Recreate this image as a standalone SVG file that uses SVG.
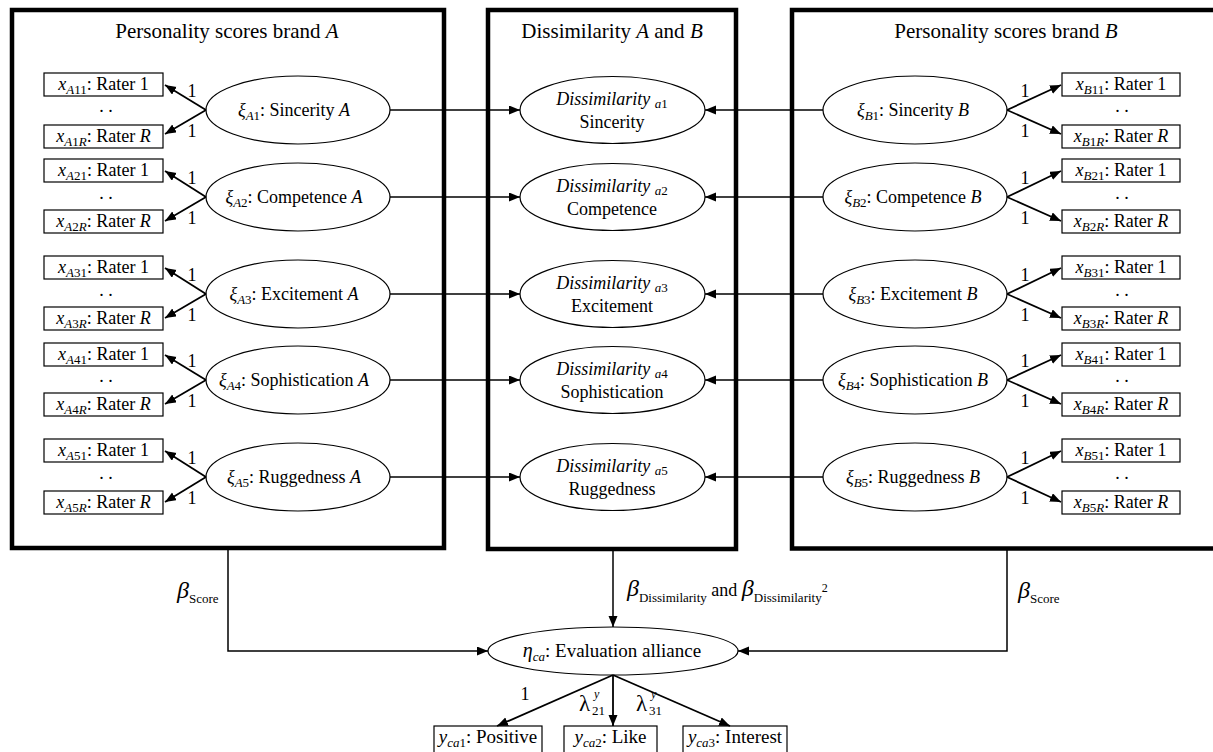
<svg xmlns="http://www.w3.org/2000/svg" width="1213" height="752" viewBox="0 0 1213 752">
<defs>
<style>
.frame{fill:none;stroke:#000;stroke-width:4.5}
.box{fill:#fff;stroke:#000;stroke-width:1.2}
.ell{fill:#fff;stroke:#000;stroke-width:1.2}
.conn{fill:none;stroke:#000;stroke-width:1.6}
.ld{fill:none;stroke:#000;stroke-width:1.8;marker-end:url(#ah)}
.ha{fill:none;stroke:#000;stroke-width:1.5;marker-end:url(#ah)}
text{font-family:"Liberation Serif","Times New Roman",serif;fill:#000}
.i{font-style:italic}
.ti{font-size:21px}
.f18{font-size:18px}
.f19{font-size:19px}
.s{font-size:13px}
.lab{font-size:18px}
</style>
<marker id="ah" markerUnits="userSpaceOnUse" markerWidth="12" markerHeight="10" refX="11" refY="4.5" orient="auto">
<path d="M0,0 L11,4.5 L0,9 z" fill="#000"/>
</marker>
</defs>
<rect width="1213" height="752" fill="#fff"/>

<g id="frames">
<rect class="frame" x="12" y="10" width="432" height="538"/>
<rect class="frame" x="488" y="10" width="248" height="539"/>
<rect class="frame" x="792" y="10" width="440" height="538.5"/>
<text class="ti" x="227" y="38" text-anchor="middle">Personality scores brand <tspan class="i">A</tspan></text>
<text class="ti" x="612" y="38" text-anchor="middle">Dissimilarity <tspan class="i">A</tspan> and <tspan class="i">B</tspan></text>
<text class="ti" x="1006" y="38" text-anchor="middle">Personality scores brand <tspan class="i">B</tspan></text>
</g>

<!-- Row 1 -->
<g id="xA11"><rect class="box" x="44" y="73" width="119" height="23"/><text class="f18" x="103.5" y="90" text-anchor="middle"><tspan class="i">x</tspan><tspan class="s" dy="4"><tspan class="i">A</tspan>11</tspan><tspan dy="-4">: Rater 1</tspan></text></g>
<g id="xA1R"><rect class="box" x="44" y="125" width="119" height="23"/><text class="f18" x="103.5" y="142" text-anchor="middle"><tspan class="i">x</tspan><tspan class="s" dy="4"><tspan class="i">A</tspan>1<tspan class="i">R</tspan></tspan><tspan dy="-4">: Rater </tspan><tspan class="i">R</tspan></text></g>
<g id="xiA1"><ellipse class="ell" cx="298" cy="110" rx="92" ry="34"/><text class="f18" x="294" y="116" text-anchor="middle"><tspan class="i">ξ</tspan><tspan class="s" dy="4"><tspan class="i">A</tspan>1</tspan><tspan dy="-4">: Sincerity </tspan><tspan class="i">A</tspan></text></g>
<g id="dis1"><ellipse class="ell" cx="612.5" cy="110" rx="92.5" ry="33.5"/><text class="f18" x="612" y="105" text-anchor="middle"><tspan class="i">Dissimilarity </tspan><tspan class="s" dy="3"><tspan class="i">a</tspan>1</tspan></text><text class="f18" x="612" y="128" text-anchor="middle">Sincerity</text></g>
<g id="xiB1"><ellipse class="ell" cx="915" cy="110" rx="92" ry="34"/><text class="f18" x="913" y="116" text-anchor="middle"><tspan class="i">ξ</tspan><tspan class="s" dy="4"><tspan class="i">B</tspan>1</tspan><tspan dy="-4">: Sincerity </tspan><tspan class="i">B</tspan></text></g>
<g id="xB11"><rect class="box" x="1062" y="73" width="118" height="23"/><text class="f18" x="1121" y="90" text-anchor="middle"><tspan class="i">x</tspan><tspan class="s" dy="4"><tspan class="i">B</tspan>11</tspan><tspan dy="-4">: Rater 1</tspan></text></g>
<g id="xB1R"><rect class="box" x="1062" y="125" width="118" height="23"/><text class="f18" x="1121" y="142" text-anchor="middle"><tspan class="i">x</tspan><tspan class="s" dy="4"><tspan class="i">B</tspan>1<tspan class="i">R</tspan></tspan><tspan dy="-4">: Rater </tspan><tspan class="i">R</tspan></text></g>

<!-- Row 2 -->
<g id="xA21"><rect class="box" x="44" y="159" width="119" height="23"/><text class="f18" x="103.5" y="176" text-anchor="middle"><tspan class="i">x</tspan><tspan class="s" dy="4"><tspan class="i">A</tspan>21</tspan><tspan dy="-4">: Rater 1</tspan></text></g>
<g id="xA2R"><rect class="box" x="44" y="210" width="119" height="23"/><text class="f18" x="103.5" y="227" text-anchor="middle"><tspan class="i">x</tspan><tspan class="s" dy="4"><tspan class="i">A</tspan>2<tspan class="i">R</tspan></tspan><tspan dy="-4">: Rater </tspan><tspan class="i">R</tspan></text></g>
<g id="xiA2"><ellipse class="ell" cx="298" cy="197" rx="92" ry="34"/><text class="f18" x="294" y="203" text-anchor="middle"><tspan class="i">ξ</tspan><tspan class="s" dy="4"><tspan class="i">A</tspan>2</tspan><tspan dy="-4">: Competence </tspan><tspan class="i">A</tspan></text></g>
<g id="dis2"><ellipse class="ell" cx="612.5" cy="197" rx="92.5" ry="33.5"/><text class="f18" x="612" y="192" text-anchor="middle"><tspan class="i">Dissimilarity </tspan><tspan class="s" dy="3"><tspan class="i">a</tspan>2</tspan></text><text class="f18" x="612" y="215" text-anchor="middle">Competence</text></g>
<g id="xiB2"><ellipse class="ell" cx="915" cy="197" rx="92" ry="34"/><text class="f18" x="913" y="203" text-anchor="middle"><tspan class="i">ξ</tspan><tspan class="s" dy="4"><tspan class="i">B</tspan>2</tspan><tspan dy="-4">: Competence </tspan><tspan class="i">B</tspan></text></g>
<g id="xB21"><rect class="box" x="1062" y="159" width="118" height="23"/><text class="f18" x="1121" y="176" text-anchor="middle"><tspan class="i">x</tspan><tspan class="s" dy="4"><tspan class="i">B</tspan>21</tspan><tspan dy="-4">: Rater 1</tspan></text></g>
<g id="xB2R"><rect class="box" x="1062" y="210" width="118" height="23"/><text class="f18" x="1121" y="227" text-anchor="middle"><tspan class="i">x</tspan><tspan class="s" dy="4"><tspan class="i">B</tspan>2<tspan class="i">R</tspan></tspan><tspan dy="-4">: Rater </tspan><tspan class="i">R</tspan></text></g>

<!-- Row 3 -->
<g id="xA31"><rect class="box" x="44" y="256" width="119" height="23"/><text class="f18" x="103.5" y="273" text-anchor="middle"><tspan class="i">x</tspan><tspan class="s" dy="4"><tspan class="i">A</tspan>31</tspan><tspan dy="-4">: Rater 1</tspan></text></g>
<g id="xA3R"><rect class="box" x="44" y="307" width="119" height="23"/><text class="f18" x="103.5" y="324" text-anchor="middle"><tspan class="i">x</tspan><tspan class="s" dy="4"><tspan class="i">A</tspan>3<tspan class="i">R</tspan></tspan><tspan dy="-4">: Rater </tspan><tspan class="i">R</tspan></text></g>
<g id="xiA3"><ellipse class="ell" cx="298" cy="294" rx="92" ry="34"/><text class="f18" x="294" y="300" text-anchor="middle"><tspan class="i">ξ</tspan><tspan class="s" dy="4"><tspan class="i">A</tspan>3</tspan><tspan dy="-4">: Excitement </tspan><tspan class="i">A</tspan></text></g>
<g id="dis3"><ellipse class="ell" cx="612.5" cy="294" rx="92.5" ry="33.5"/><text class="f18" x="612" y="289" text-anchor="middle"><tspan class="i">Dissimilarity </tspan><tspan class="s" dy="3"><tspan class="i">a</tspan>3</tspan></text><text class="f18" x="612" y="312" text-anchor="middle">Excitement</text></g>
<g id="xiB3"><ellipse class="ell" cx="915" cy="294" rx="92" ry="34"/><text class="f18" x="913" y="300" text-anchor="middle"><tspan class="i">ξ</tspan><tspan class="s" dy="4"><tspan class="i">B</tspan>3</tspan><tspan dy="-4">: Excitement </tspan><tspan class="i">B</tspan></text></g>
<g id="xB31"><rect class="box" x="1062" y="256" width="118" height="23"/><text class="f18" x="1121" y="273" text-anchor="middle"><tspan class="i">x</tspan><tspan class="s" dy="4"><tspan class="i">B</tspan>31</tspan><tspan dy="-4">: Rater 1</tspan></text></g>
<g id="xB3R"><rect class="box" x="1062" y="307" width="118" height="23"/><text class="f18" x="1121" y="324" text-anchor="middle"><tspan class="i">x</tspan><tspan class="s" dy="4"><tspan class="i">B</tspan>3<tspan class="i">R</tspan></tspan><tspan dy="-4">: Rater </tspan><tspan class="i">R</tspan></text></g>

<!-- Row 4 -->
<g id="xA41"><rect class="box" x="44" y="343" width="119" height="23"/><text class="f18" x="103.5" y="360" text-anchor="middle"><tspan class="i">x</tspan><tspan class="s" dy="4"><tspan class="i">A</tspan>41</tspan><tspan dy="-4">: Rater 1</tspan></text></g>
<g id="xA4R"><rect class="box" x="44" y="393" width="119" height="23"/><text class="f18" x="103.5" y="410" text-anchor="middle"><tspan class="i">x</tspan><tspan class="s" dy="4"><tspan class="i">A</tspan>4<tspan class="i">R</tspan></tspan><tspan dy="-4">: Rater </tspan><tspan class="i">R</tspan></text></g>
<g id="xiA4"><ellipse class="ell" cx="298" cy="380" rx="92" ry="34"/><text class="f18" x="294" y="386" text-anchor="middle"><tspan class="i">ξ</tspan><tspan class="s" dy="4"><tspan class="i">A</tspan>4</tspan><tspan dy="-4">: Sophistication </tspan><tspan class="i">A</tspan></text></g>
<g id="dis4"><ellipse class="ell" cx="612.5" cy="380" rx="92.5" ry="33.5"/><text class="f18" x="612" y="375" text-anchor="middle"><tspan class="i">Dissimilarity </tspan><tspan class="s" dy="3"><tspan class="i">a</tspan>4</tspan></text><text class="f18" x="612" y="398" text-anchor="middle">Sophistication</text></g>
<g id="xiB4"><ellipse class="ell" cx="915" cy="380" rx="92" ry="34"/><text class="f18" x="913" y="386" text-anchor="middle"><tspan class="i">ξ</tspan><tspan class="s" dy="4"><tspan class="i">B</tspan>4</tspan><tspan dy="-4">: Sophistication </tspan><tspan class="i">B</tspan></text></g>
<g id="xB41"><rect class="box" x="1062" y="343" width="118" height="23"/><text class="f18" x="1121" y="360" text-anchor="middle"><tspan class="i">x</tspan><tspan class="s" dy="4"><tspan class="i">B</tspan>41</tspan><tspan dy="-4">: Rater 1</tspan></text></g>
<g id="xB4R"><rect class="box" x="1062" y="393" width="118" height="23"/><text class="f18" x="1121" y="410" text-anchor="middle"><tspan class="i">x</tspan><tspan class="s" dy="4"><tspan class="i">B</tspan>4<tspan class="i">R</tspan></tspan><tspan dy="-4">: Rater </tspan><tspan class="i">R</tspan></text></g>

<!-- Row 5 -->
<g id="xA51"><rect class="box" x="44" y="439" width="119" height="23"/><text class="f18" x="103.5" y="456" text-anchor="middle"><tspan class="i">x</tspan><tspan class="s" dy="4"><tspan class="i">A</tspan>51</tspan><tspan dy="-4">: Rater 1</tspan></text></g>
<g id="xA5R"><rect class="box" x="44" y="491" width="119" height="23"/><text class="f18" x="103.5" y="508" text-anchor="middle"><tspan class="i">x</tspan><tspan class="s" dy="4"><tspan class="i">A</tspan>5<tspan class="i">R</tspan></tspan><tspan dy="-4">: Rater </tspan><tspan class="i">R</tspan></text></g>
<g id="xiA5"><ellipse class="ell" cx="298" cy="477" rx="92" ry="34"/><text class="f18" x="294" y="483" text-anchor="middle"><tspan class="i">ξ</tspan><tspan class="s" dy="4"><tspan class="i">A</tspan>5</tspan><tspan dy="-4">: Ruggedness </tspan><tspan class="i">A</tspan></text></g>
<g id="dis5"><ellipse class="ell" cx="612.5" cy="477" rx="92.5" ry="33.5"/><text class="f18" x="612" y="472" text-anchor="middle"><tspan class="i">Dissimilarity </tspan><tspan class="s" dy="3"><tspan class="i">a</tspan>5</tspan></text><text class="f18" x="612" y="495" text-anchor="middle">Ruggedness</text></g>
<g id="xiB5"><ellipse class="ell" cx="915" cy="477" rx="92" ry="34"/><text class="f18" x="913" y="483" text-anchor="middle"><tspan class="i">ξ</tspan><tspan class="s" dy="4"><tspan class="i">B</tspan>5</tspan><tspan dy="-4">: Ruggedness </tspan><tspan class="i">B</tspan></text></g>
<g id="xB51"><rect class="box" x="1062" y="439" width="118" height="23"/><text class="f18" x="1121" y="456" text-anchor="middle"><tspan class="i">x</tspan><tspan class="s" dy="4"><tspan class="i">B</tspan>51</tspan><tspan dy="-4">: Rater 1</tspan></text></g>
<g id="xB5R"><rect class="box" x="1062" y="491" width="118" height="23"/><text class="f18" x="1121" y="508" text-anchor="middle"><tspan class="i">x</tspan><tspan class="s" dy="4"><tspan class="i">B</tspan>5<tspan class="i">R</tspan></tspan><tspan dy="-4">: Rater </tspan><tspan class="i">R</tspan></text></g>

<g id="dots" class="f18">
<text class="f18" x="106" y="112" text-anchor="middle">. .</text>
<text class="f18" x="106" y="199" text-anchor="middle">. .</text>
<text class="f18" x="106" y="296" text-anchor="middle">. .</text>
<text class="f18" x="106" y="382" text-anchor="middle">. .</text>
<text class="f18" x="106" y="479" text-anchor="middle">. .</text>
<text class="f18" x="1122" y="112" text-anchor="middle">. .</text>
<text class="f18" x="1122" y="199" text-anchor="middle">. .</text>
<text class="f18" x="1122" y="296" text-anchor="middle">. .</text>
<text class="f18" x="1122" y="382" text-anchor="middle">. .</text>
<text class="f18" x="1122" y="479" text-anchor="middle">. .</text>
</g>

<!-- Bottom nodes -->
<g id="eta"><ellipse class="ell" cx="613" cy="651" rx="125" ry="24"/><text class="f19" x="612" y="657" text-anchor="middle"><tspan class="i" font-size="20">η</tspan><tspan class="s i" dy="4">ca</tspan><tspan dy="-4">: Evaluation alliance</tspan></text></g>
<g id="yca1"><rect class="box" x="434" y="726" width="108" height="28"/><text class="f19" x="488" y="743" text-anchor="middle"><tspan class="i">y</tspan><tspan class="s" dy="4"><tspan class="i">ca</tspan>1</tspan><tspan dy="-4">: Positive</tspan></text></g>
<g id="yca2"><rect class="box" x="564" y="726" width="93" height="28"/><text class="f19" x="610.5" y="743" text-anchor="middle"><tspan class="i">y</tspan><tspan class="s" dy="4"><tspan class="i">ca</tspan>2</tspan><tspan dy="-4">: Like</tspan></text></g>
<g id="yca3"><rect class="box" x="683" y="726" width="104" height="28"/><text class="f19" x="735" y="743" text-anchor="middle"><tspan class="i">y</tspan><tspan class="s" dy="4"><tspan class="i">ca</tspan>3</tspan><tspan dy="-4">: Interest</tspan></text></g>

<g id="connectors">
<!-- left loadings -->
<path class="ld" d="M206,110 L165,85"/><path class="ld" d="M206,110 L165,134"/>
<path class="ld" d="M206,197 L165,171"/><path class="ld" d="M206,197 L165,221"/>
<path class="ld" d="M206,294 L165,268"/><path class="ld" d="M206,294 L165,318"/>
<path class="ld" d="M206,380 L165,355"/><path class="ld" d="M206,380 L165,404"/>
<path class="ld" d="M206,477 L165,451"/><path class="ld" d="M206,477 L165,502"/>
<!-- right loadings -->
<path class="ld" d="M1007,110 L1061,85"/><path class="ld" d="M1007,110 L1061,134"/>
<path class="ld" d="M1007,197 L1061,171"/><path class="ld" d="M1007,197 L1061,221"/>
<path class="ld" d="M1007,294 L1061,268"/><path class="ld" d="M1007,294 L1061,318"/>
<path class="ld" d="M1007,380 L1061,355"/><path class="ld" d="M1007,380 L1061,404"/>
<path class="ld" d="M1007,477 L1061,451"/><path class="ld" d="M1007,477 L1061,502"/>
<!-- to dissimilarity -->
<path class="ha" d="M390,110 L520,110"/><path class="ha" d="M823,110 L705,110"/>
<path class="ha" d="M390,197 L520,197"/><path class="ha" d="M823,197 L705,197"/>
<path class="ha" d="M390,294 L520,294"/><path class="ha" d="M823,294 L705,294"/>
<path class="ha" d="M390,380 L520,380"/><path class="ha" d="M823,380 L705,380"/>
<path class="ha" d="M390,477 L520,477"/><path class="ha" d="M823,477 L705,477"/>
<!-- structural -->
<path class="ha" d="M228,550 L228,651 L488,651"/>
<path class="ha" d="M613,551 L613,627"/>
<path class="ha" d="M1007,550 L1007,651 L738,651"/>
<!-- eta loadings -->
<path class="ld" d="M613,675 L497,726"/>
<path class="ld" d="M613,675 L613,726"/>
<path class="ld" d="M613,675 L730,726"/>
</g>

<g id="labels" class="lab">
<text class="lab" x="192" y="97" text-anchor="middle">1</text><text class="lab" x="192" y="137" text-anchor="middle">1</text>
<text class="lab" x="192" y="184" text-anchor="middle">1</text><text class="lab" x="192" y="224" text-anchor="middle">1</text>
<text class="lab" x="192" y="281" text-anchor="middle">1</text><text class="lab" x="192" y="321" text-anchor="middle">1</text>
<text class="lab" x="192" y="367" text-anchor="middle">1</text><text class="lab" x="192" y="407" text-anchor="middle">1</text>
<text class="lab" x="192" y="464" text-anchor="middle">1</text><text class="lab" x="192" y="504" text-anchor="middle">1</text>
<text class="lab" x="1025" y="97" text-anchor="middle">1</text><text class="lab" x="1025" y="137" text-anchor="middle">1</text>
<text class="lab" x="1025" y="184" text-anchor="middle">1</text><text class="lab" x="1025" y="224" text-anchor="middle">1</text>
<text class="lab" x="1025" y="281" text-anchor="middle">1</text><text class="lab" x="1025" y="321" text-anchor="middle">1</text>
<text class="lab" x="1025" y="367" text-anchor="middle">1</text><text class="lab" x="1025" y="407" text-anchor="middle">1</text>
<text class="lab" x="1025" y="464" text-anchor="middle">1</text><text class="lab" x="1025" y="504" text-anchor="middle">1</text>
<text x="177" y="598"><tspan class="i" font-size="24">β</tspan><tspan font-size="13" dy="5">Score</tspan></text>
<text x="1018" y="598"><tspan class="i" font-size="24">β</tspan><tspan font-size="13" dy="5">Score</tspan></text>
<text x="627" y="596"><tspan class="i" font-size="24">β</tspan><tspan font-size="13" dy="6">Dissimilarity</tspan><tspan font-size="18" dy="-6"> and </tspan><tspan class="i" font-size="24">β</tspan><tspan font-size="13" dy="6">Dissimilarity</tspan><tspan font-size="12" dy="-10">2</tspan></text>
<text class="lab" x="525" y="700" text-anchor="middle">1</text>
<text x="579" y="711" font-size="23">λ</text>
<text x="594" y="698" font-size="12" class="i">y</text>
<text x="592" y="715" font-size="13">21</text>
<text x="636" y="711" font-size="23">λ</text>
<text x="651" y="698" font-size="12" class="i">y</text>
<text x="649" y="715" font-size="13">31</text>
</g>
</svg>
